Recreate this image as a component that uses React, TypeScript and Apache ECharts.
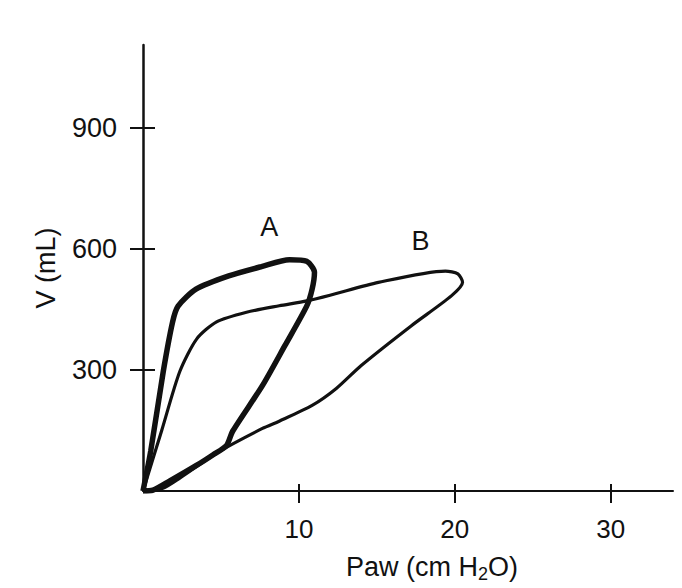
import React, { useEffect, useRef } from "react";
import * as echarts from "echarts";

const aPressure = [0, 0.5, 1.3, 1.9, 2.25, 3.4, 5.5, 7.6, 9.4, 10.5, 11, 10.85, 10.5, 9.1, 7.66, 5.75, 5.36, 4.5, 3.45, 1.72, 0.64, 0];
const aVolume = [0, 100, 296, 419, 458, 500, 533, 556, 573, 569, 542, 500, 458, 360, 261, 148, 113, 90, 64, 25, 2, 0];
const bPressure = [0, 1.2, 2.36, 3.45, 4.72, 6.64, 8.74, 10.5, 12, 15.1, 19.4, 20.2, 20.5, 19.8, 17.2, 14.0, 12.4, 10.85, 8.74, 7.66, 4.9, 2.36, 1.28, 0];
const bVolume = [0, 150, 296, 377, 419, 443, 459, 471, 485, 517, 545, 538, 517, 484, 409, 311, 254, 212, 173, 155, 98, 32, 7, 0];
const xTicks = [10, 20, 30];
const yTicks = [300, 600, 900];
const loopLabels = ["A", "B"];
const labelPos = [[8.1, 653], [17.8, 619]];

const FONT = "Liberation Sans";
const INK = "#111";

export default function App() {
  const ref = useRef<HTMLDivElement>(null);
  useEffect(() => {
    if (!ref.current) return;
    const chart = echarts.init(ref.current, null, { renderer: "svg" });
    const xMin = 0, xMax = 34, yMin = 0, yMax = 1105;
    const baseX = {
      type: "value", min: xMin, max: xMax, splitLine: { show: false },
    };
    const baseY = {
      type: "value", min: yMin, max: yMax, splitLine: { show: false },
    };
    chart.setOption({
      animation: false,
      backgroundColor: "#fff",
      grid: { left: 143, right: 9, top: 45, bottom: 95, containLabel: false },
      xAxis: [
        {
          ...baseX,
          position: "bottom",
          axisLine: { show: true, lineStyle: { color: INK, width: 2 } },
          axisTick: { show: true, customValues: xTicks, length: 12, lineStyle: { color: INK, width: 2 } },
          axisLabel: { show: true, customValues: xTicks, margin: 25, color: INK, fontFamily: FONT, fontSize: 26 },
          name: "Paw (cm H{sub|2}O)",
          nameLocation: "middle",
          nameGap: 60,
          nameTextStyle: {
            color: INK, fontFamily: FONT, fontSize: 27, padding: [0, 0, 0, 48],
            rich: { sub: { fontFamily: FONT, fontSize: 18, color: INK, verticalAlign: "bottom", padding: [14, 0, 0, 0] } },
          },
        },
        {
          ...baseX,
          position: "bottom",
          axisLine: { show: false },
          axisTick: { show: true, inside: true, customValues: xTicks, length: 7, lineStyle: { color: INK, width: 2 } },
          axisLabel: { show: false },
        },
      ],
      yAxis: [
        {
          ...baseY,
          position: "left",
          axisLine: { show: true, lineStyle: { color: INK, width: 2.5 } },
          axisTick: { show: true, customValues: yTicks, length: 13, lineStyle: { color: INK, width: 2 } },
          axisLabel: { show: true, customValues: yTicks, margin: 26, color: INK, fontFamily: FONT, fontSize: 27 },
          name: "V (mL)",
          nameLocation: "middle",
          nameGap: 84,
          nameRotate: 90,
          nameTextStyle: { color: INK, fontFamily: FONT, fontSize: 27 },
        },
        {
          ...baseY,
          position: "left",
          axisLine: { show: false },
          axisTick: { show: true, inside: true, customValues: yTicks, length: 12, lineStyle: { color: INK, width: 2 } },
          axisLabel: { show: false },
        },
      ],
      series: [
        {
          type: "line",
          name: "B",
          xAxisIndex: 0,
          yAxisIndex: 0,
          data: bPressure.map((p, i) => [p, bVolume[i]]),
          showSymbol: false,
          smooth: 0.25,
          lineStyle: { color: INK, width: 3.2 },
          markPoint: {
            symbolSize: 0,
            label: { show: true, formatter: loopLabels[1], color: INK, fontFamily: FONT, fontSize: 27, position: "inside" },
            data: [{ coord: labelPos[1] }],
          },
        },
        {
          type: "line",
          name: "A",
          xAxisIndex: 0,
          yAxisIndex: 0,
          data: aPressure.map((p, i) => [p, aVolume[i]]),
          showSymbol: false,
          smooth: 0.25,
          lineStyle: { color: INK, width: 5.5 },
          markPoint: {
            symbolSize: 0,
            label: { show: true, formatter: loopLabels[0], color: INK, fontFamily: FONT, fontSize: 27, position: "inside" },
            data: [{ coord: labelPos[0] }],
          },
        },
      ],
    });
    return () => chart.dispose();
  }, []);
  return (
    <div
      ref={ref}
      style={{ position: "fixed", left: 0, top: 0, width: 682, height: 588, background: "#fff" }}
    />
  );
}
